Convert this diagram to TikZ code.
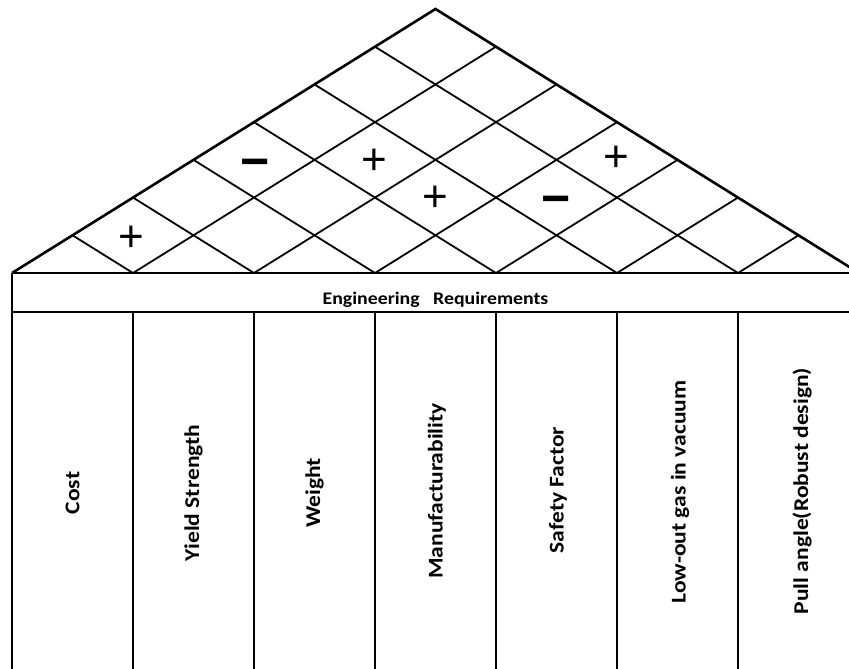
\documentclass[tikz,border=0pt]{standalone}
\usepackage{fontspec}
\setmainfont{Carlito}
\newfontfamily\widefont[FakeStretch=1.12]{Carlito}
\newfontfamily\signfont{Liberation Sans}
\begin{document}
\begin{tikzpicture}[x=1pt,y=-1pt,
  roof/.style={line width=2.6pt, line join=miter},
  grid/.style={line width=1.8pt},
  wall/.style={line width=1.8pt},
  lbl/.style={rotate=90, font=\widefont\fontsize{21}{23}\selectfont\bfseries, inner sep=0pt},
  head/.style={font=\widefont\fontsize{17.7}{20}\selectfont\bfseries, inner sep=0pt},
  plussign/.style={font=\signfont\fontsize{44}{44}\selectfont, inner sep=0pt},
  minussign/.style={font=\signfont\bfseries\fontsize{50}{50}\selectfont, inner sep=0pt}]
\useasboundingbox (0,0) rectangle (849,669);
\clip (0,0) rectangle (849,669);
% roof corners
\coordinate (L) at (12,273);
\coordinate (A) at (435.5,9);
\coordinate (R) at (859,273);
% base points
\foreach \k in {0,...,7} { \coordinate (b\k) at (12+121*\k,273); }
\begin{scope}
  \clip (L) -- (A) -- (R) -- cycle;
  \foreach \k in {1,...,6} {
    \draw[grid] (b\k) -- ++(-423.5,-264);
    \draw[grid] (b\k) -- ++(423.5,-264);
  }
\end{scope}
\draw[roof] (L) -- (A) -- (R);
% header band
\coordinate (h1) at (12,312);
\coordinate (h1r) at (870,312);
\coordinate (Lr) at (870,273);
\draw[wall] (L) -- (Lr);
\draw[wall] (h1) -- (h1r);
\coordinate (wb) at (12,680);
\draw[wall] (L) -- (wb);
\foreach \k in {1,...,7} {
  \coordinate (t\k) at (12+121*\k,312);
  \coordinate (u\k) at (12+121*\k,680);
  \draw[wall] (t\k) -- (u\k);
}
\node[head] (hdr) at (435.5,300) {Engineering\ \ \ Requirements};
% column labels
\node[lbl] (c1) at (72.5,493) {Cost};
\node[lbl] (c2) at (193.5,493) {Yield Strength};
\node[lbl] (c3) at (314.5,493) {Weight};
\node[lbl] (c4) at (437,491) {Manufacturability};
\node[lbl] (c5) at (558,490) {Safety Factor};
\node[lbl] (c6) at (680,492) {Low-out gas in vacuum};
\node[lbl] (c7) at (802,491) {Pull angle(Robust design)};
% correlation signs
\node[plussign] (s1) at (131,239) {+};
\node[minussign] (s2) at (255,169) {−};
\node[plussign] (s3) at (374,162) {+};
\node[plussign] (s4) at (435,199) {+};
\node[minussign] (s5) at (556,206) {−};
\node[plussign] (s6) at (616,159) {+};
\end{tikzpicture}
\end{document}
